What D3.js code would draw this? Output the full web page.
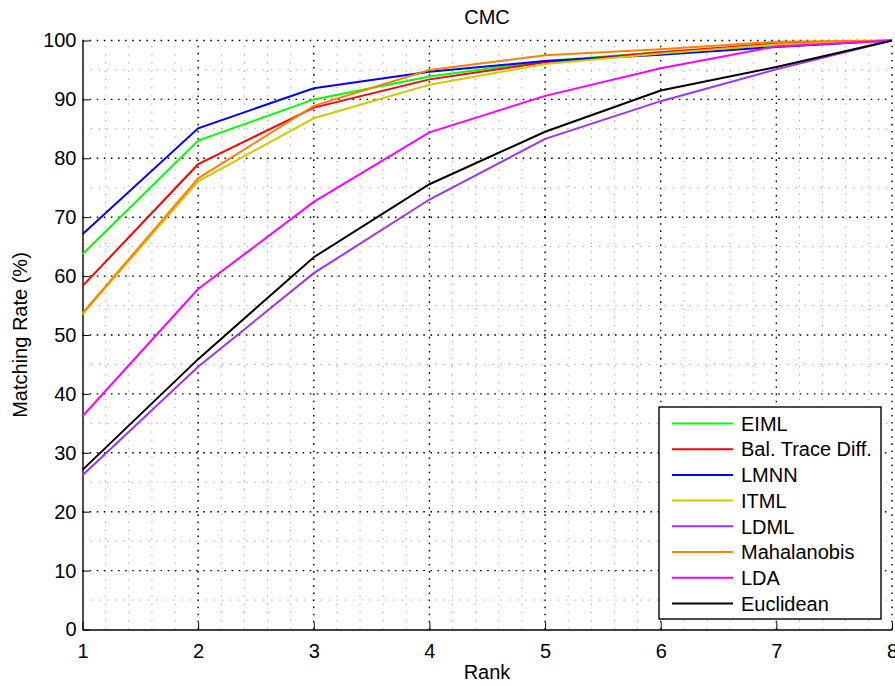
<!DOCTYPE html>
<head>
  <meta charset="utf-8">
  <script src="https://d3js.org/d3.v7.min.js"></script>
  <style>
    body { margin:0; background:#fff; }
    svg { display:block; font-family:"Liberation Sans", Arial, sans-serif; }
  </style>
</head>
<body>
  <svg width="895" height="686"></svg>
  <script>
    // ranks on the x axis
    var ranks = [1, 2, 3, 4, 5, 6, 7, 8];

    // matching rate (%) per method
    var eiml        = [63.7, 83.0, 90.0, 93.9, 96.5, 98.0, 99.2, 100];
    var balTrace    = [58.3, 79.0, 88.6, 93.4, 96.3, 98.0, 99.5, 100];
    var lmnn        = [67.1, 85.1, 91.9, 94.7, 96.5, 97.6, 98.9, 100];
    var itml        = [53.5, 76.1, 86.8, 92.5, 96.0, 97.8, 99.3, 100];
    var ldml        = [26.2, 44.6, 60.5, 73.0, 83.3, 89.7, 95.1, 100];
    var mahalanobis = [53.7, 76.6, 88.9, 95.0, 97.5, 98.5, 99.8, 100];
    var lda         = [36.2, 57.8, 72.6, 84.4, 90.6, 95.3, 99.0, 100];
    var euclidean   = [27.1, 45.9, 63.2, 75.6, 84.5, 91.5, 95.5, 100];

    var seriesNames = ['EIML', 'Bal. Trace Diff.', 'LMNN', 'ITML', 'LDML', 'Mahalanobis', 'LDA', 'Euclidean'];
    var seriesValues = [eiml, balTrace, lmnn, itml, ldml, mahalanobis, lda, euclidean];
    var seriesColors = ['#00ff00', '#ff0000', '#0000ff', '#cccc00', '#9933ff', '#ff8000', '#ff00ff', '#000000'];

    var yTicks = [0, 10, 20, 30, 40, 50, 60, 70, 80, 90, 100];

    var margin = {top: 40.5, right: 3, bottom: 56.5, left: 82.5};
    var width = 895, height = 686;
    var fs = 20;

    var svg = d3.select('svg');

    var x = d3.scaleLinear().domain([1, 8]).range([margin.left, width - margin.right]);
    var y = d3.scaleLinear().domain([0, 100]).range([height - margin.bottom, margin.top]);

    // minor grid
    var minorX = d3.range(1, 8.001, 0.2).filter(function(d) { return Math.abs(d - Math.round(d)) > 0.01; });
    var minorY = d3.range(0, 100.001, 5).filter(function(d) { return d % 10 !== 0; });

    var grid = svg.append('g');
    grid.selectAll('.mx').data(minorX).enter().append('line')
      .attr('x1', d => x(d)).attr('x2', d => x(d))
      .attr('y1', y(0)).attr('y2', y(100))
      .attr('stroke', '#999').attr('stroke-width', 1).attr('stroke-dasharray', '1.2,7');
    grid.selectAll('.my').data(minorY).enter().append('line')
      .attr('y1', d => y(d)).attr('y2', d => y(d))
      .attr('x1', x(1)).attr('x2', x(8))
      .attr('stroke', '#999').attr('stroke-width', 1).attr('stroke-dasharray', '1.2,7');

    // major grid
    grid.selectAll('.gx').data(ranks.slice(1)).enter().append('line')
      .attr('x1', d => x(d)).attr('x2', d => x(d))
      .attr('y1', y(0)).attr('y2', y(100))
      .attr('stroke', '#000').attr('stroke-width', 1.4).attr('stroke-dasharray', '1.6,5.5');
    grid.selectAll('.gy').data(yTicks.slice(1)).enter().append('line')
      .attr('y1', d => y(d)).attr('y2', d => y(d))
      .attr('x1', x(1)).attr('x2', x(8))
      .attr('stroke', '#000').attr('stroke-width', 1.4).attr('stroke-dasharray', '1.6,5.5');

    // axes
    var xAxis = d3.axisBottom(x).tickValues(ranks).tickFormat(d3.format('d'))
      .tickSizeInner(-7).tickSizeOuter(0).tickPadding(14);
    var yAxis = d3.axisLeft(y).tickValues(yTicks).tickFormat(d3.format('d'))
      .tickSizeInner(-7).tickSizeOuter(0).tickPadding(6);

    var gx = svg.append('g')
      .attr('transform', 'translate(0,' + y(0) + ')')
      .call(xAxis);
    var gy = svg.append('g')
      .attr('transform', 'translate(' + x(1) + ',0)')
      .call(yAxis);

    [gx, gy].forEach(function(g) {
      g.selectAll('text').attr('font-size', fs).attr('fill', '#000')
        .style('font-family', '"Liberation Sans", Arial, sans-serif');
      g.select('.domain').attr('stroke', '#000').attr('stroke-width', 1.4);
      g.selectAll('.tick line').attr('stroke', '#000');
    });
    gx.selectAll('text').attr('dy', '0.71em');

    // lines
    var line = d3.line()
      .x(function(d, i) { return x(ranks[i]); })
      .y(function(d) { return y(d); });

    svg.append('g').selectAll('path')
      .data(seriesValues)
      .enter().append('path')
      .attr('d', line)
      .attr('fill', 'none')
      .attr('stroke', (d, i) => seriesColors[i])
      .attr('stroke-width', 2);

    // title and labels
    svg.append('text').attr('x', 487).attr('y', 24).attr('text-anchor', 'middle')
      .attr('font-size', fs).text('CMC');
    svg.append('text').attr('x', 487).attr('y', 679).attr('text-anchor', 'middle')
      .attr('font-size', fs).text('Rank');
    svg.append('text').attr('transform', 'translate(27,335) rotate(-90)').attr('text-anchor', 'middle')
      .attr('font-size', fs).text('Matching Rate (%)');

    // legend
    var legend = svg.append('g').attr('transform', 'translate(659,407)');
    legend.append('rect').attr('width', 222).attr('height', 212)
      .attr('fill', '#fff').attr('stroke', '#000').attr('stroke-width', 1.4);
    var rows = legend.selectAll('.row').data(seriesNames).enter().append('g')
      .attr('transform', (d, i) => 'translate(0,' + (16.5 + i * 25.7) + ')');
    rows.append('line').attr('x1', 13).attr('x2', 74)
      .attr('stroke', (d, i) => seriesColors[i]).attr('stroke-width', 2);
    rows.append('text').attr('x', 82).attr('dy', '0.36em').attr('font-size', fs)
      .text(d => d);
  </script>
</body>
